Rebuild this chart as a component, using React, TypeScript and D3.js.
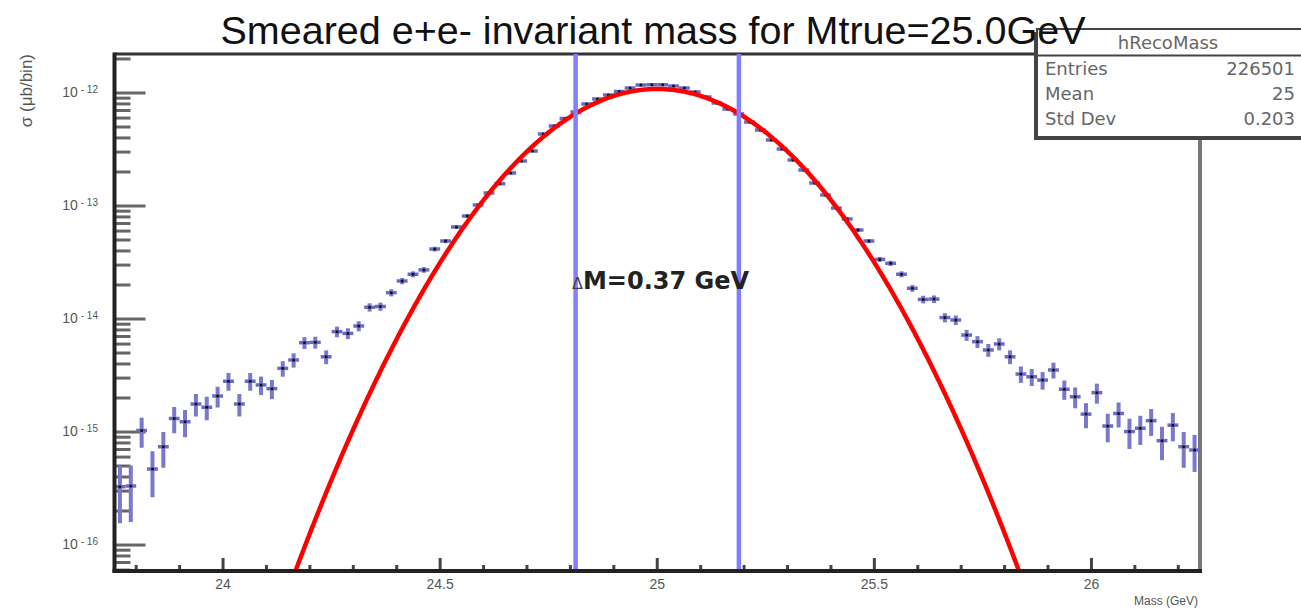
import React from 'react';
import * as d3 from 'd3';

// ---------- data ----------
const massLow = 23.75;
const massHigh = 26.25;
const binWidth = 0.025;
// sigma per bin (ub/bin), 100 bins from 23.75 to 26.25 GeV
const sigmaPerBin = [
  3.28e-16, 3.33e-16, 1.03e-15, 4.71e-16, 7.41e-16, 1.32e-15, 1.23e-15, 1.77e-15, 1.66e-15, 2.08e-15,
  2.82e-15, 1.77e-15, 2.82e-15, 2.61e-15, 2.42e-15, 3.66e-15, 4.34e-15, 6.17e-15, 6.22e-15, 4.63e-15,
  7.73e-15, 7.46e-15, 8.67e-15, 1.27e-14, 1.29e-14, 1.71e-14, 2.17e-14, 2.49e-14, 2.72e-14, 4.16e-14,
  4.90e-14, 6.52e-14, 8.17e-14, 1.02e-13, 1.30e-13, 1.57e-13, 1.96e-13, 2.50e-13, 3.07e-13, 4.34e-13,
  5.10e-13, 5.95e-13, 6.79e-13, 7.99e-13, 8.85e-13, 9.60e-13, 1.031e-12, 1.107e-12, 1.177e-12, 1.18e-12,
  1.18e-12, 1.153e-12, 1.107e-12, 1.02e-12, 9.22e-13, 8.155e-13, 7.22e-13, 6.52e-13, 5.54e-13, 4.71e-13,
  3.84e-13, 3.19e-13, 2.55e-13, 2.08e-13, 1.60e-13, 1.25e-13, 9.6e-14, 7.67e-14, 6.14e-14, 4.90e-14,
  3.37e-14, 3.11e-14, 2.49e-14, 1.87e-14, 1.49e-14, 1.50e-14, 1.03e-14, 9.8e-15, 7.21e-15, 6.3e-15,
  5.32e-15, 6.01e-15, 4.63e-15, 3.26e-15, 3.08e-15, 2.88e-15, 3.54e-15, 2.39e-15, 2.05e-15, 1.44e-15,
  2.23e-15, 1.13e-15, 1.46e-15, 1.01e-15, 1.08e-15, 1.26e-15, 8.38e-16, 1.15e-15, 7.41e-16, 6.93e-16,
];
const eventWeight = 9e-17; // weight of one event (Poisson errors)
const xMajorTicks = [24, 24.5, 25, 25.5, 26];
const xTickLabels = ['24', '24.5', '25', '25.5', '26'];
const yDecadeExponents = [-12, -13, -14, -15, -16];
const yDomain = [5.89e-17, 2.213e-12];
const fitMean = 25.0;
const fitSigma = 0.188;
const fitAmplitude = 1.085e-12;
const windowEdges = [24.812, 25.188];
const statsTitle = 'hRecoMass';
const statsLabels = ['Entries', 'Mean', 'Std Dev'];
const statsValues = ['226501', '25', '0.203'];
const chartTitle = 'Smeared e+e- invariant mass for Mtrue=25.0GeV';
const deltaLabel = 'M=0.37 GeV';

// ---------- layout ----------
const W = 1301;
const H = 610;
const L = 114.5;
const R = 1200;
const T = 54;
const B = 571;

export default function App() {
  const x = d3.scaleLinear().domain([massLow, massHigh]).range([L, R]);
  const y = d3.scaleLog().domain(yDomain).range([B, T]);

  const bins = sigmaPerBin.map((v, i) => {
    const c = massLow + binWidth * (i + 0.5);
    const err = Math.sqrt(v * eventWeight);
    return { c, v, lo: Math.max(v - err, yDomain[0] * 0.5), hi: v + err };
  });

  const fitXs = d3.range(massLow, massHigh + 1e-9, 0.002);
  const fitLine = d3
    .line<number>()
    .x((m) => x(m))
    .y((m) => y(fitAmplitude * Math.exp(-((m - fitMean) ** 2) / (2 * fitSigma * fitSigma))));

  const xMinor = d3.range(23.8, massHigh, 0.1).filter((m) => !xMajorTicks.some((t) => Math.abs(t - m) < 1e-6));
  const yMinor: number[] = [];
  for (let e = -17; e <= -12; e++) {
    for (let k = 2; k <= 9; k++) {
      const v = k * Math.pow(10, e);
      if (v > yDomain[0] && v < yDomain[1]) yMinor.push(v);
    }
  }

  const font = 'Liberation Sans, Arial, Helvetica, sans-serif';
  const statFont = 'DejaVu Sans, sans-serif';

  return (
    <svg width={W} height={H} style={{ position: 'absolute', left: 0, top: 0, background: '#fff' }}>
      <defs>
        <clipPath id="plotclip">
          <rect x={L} y={T} width={R - L} height={B - T} />
        </clipPath>
      </defs>
      <rect x={0} y={0} width={W} height={H} fill="#fff" />

      {/* frame */}
      <line x1={L} x2={R} y1={T} y2={T} stroke="#333" strokeWidth={3} />
      <line x1={R} x2={R} y1={T} y2={B} stroke="#777" strokeWidth={4} />

      {/* y ticks */}
      {yDecadeExponents.map((e) => (
        <line key={'yM' + e} x1={L} x2={L + 31} y1={y(Math.pow(10, e))} y2={y(Math.pow(10, e))} stroke="#666" strokeWidth={3} />
      ))}
      {yMinor.map((v, i) => (
        <line key={'ym' + i} x1={L} x2={L + 16} y1={y(v)} y2={y(v)} stroke="#666" strokeWidth={3} />
      ))}
      {/* x ticks */}
      {xMajorTicks.map((m) => (
        <line key={'xM' + m} x1={x(m)} x2={x(m)} y1={B} y2={B - 13} stroke="#444" strokeWidth={3} />
      ))}
      {xMinor.map((m, i) => (
        <line key={'xm' + i} x1={x(m)} x2={x(m)} y1={B} y2={B - 6} stroke="#444" strokeWidth={3} />
      ))}

      {/* data */}
      <g clipPath="url(#plotclip)">
        {bins.map((b, i) => (
          <g key={'b' + i}>
            <line x1={x(b.c)} x2={x(b.c)} y1={y(b.lo)} y2={y(b.hi)} stroke="#7878cc" strokeWidth={4} />
            <line x1={x(b.c - binWidth / 2)} x2={x(b.c + binWidth / 2)} y1={y(b.v)} y2={y(b.v)} stroke="#6a6ac6" strokeWidth={3.5} />
            <circle cx={x(b.c)} cy={y(b.v)} r={1.5} fill="#111" />
          </g>
        ))}
        <path d={fitLine(fitXs) || ''} fill="none" stroke="#ff0000" strokeWidth={4.5} />
        {windowEdges.map((m) => (
          <line key={'w' + m} x1={x(m)} x2={x(m)} y1={T} y2={B} stroke="#7f7fff" strokeWidth={4.5} />
        ))}
      </g>

      {/* axes */}
      <line x1={L} x2={L} y1={T - 1.5} y2={B + 2} stroke="#222" strokeWidth={4} />
      <line x1={L - 2} x2={R + 2} y1={B} y2={B} stroke="#222" strokeWidth={4} />

      {/* x labels */}
      {xMajorTicks.map((m, i) => (
        <text key={'xl' + m} x={x(m)} y={589} textAnchor="middle" fontFamily={font} fontSize={14} fill="#555">
          {xTickLabels[i]}
        </text>
      ))}
      <text x={1198} y={605} textAnchor="end" fontFamily={font} fontSize={12} fill="#555">
        Mass (GeV)
      </text>

      {/* y labels */}
      {yDecadeExponents.map((e) => (
        <text key={'yl' + e} x={98} y={y(Math.pow(10, e)) + 4} textAnchor="end" fontFamily={font} fontSize={14} fill="#555">
          10
          <tspan fontSize={10} dx={3} dy={-4}>
            {'- ' + String(-e)}
          </tspan>
        </text>
      ))}
      <text transform="translate(32,54) rotate(-90)" textAnchor="end" fontFamily={font} fontSize={17} fill="#555">
        σ (μb/bin)
      </text>

      {/* delta M label */}
      <text x={572} y={289} fontFamily="DejaVu Sans, sans-serif" fontSize={24} fontWeight="bold" fill="#222">
        <tspan fontSize={16} fontWeight="normal" fill="#444">Δ</tspan>
        {deltaLabel}
      </text>

      {/* stats box */}
      <rect x={1034} y={32} width={300} height={108} fill="#444" />
      <rect x={1037} y={29} width={300} height={108} fill="#fff" stroke="#444" strokeWidth={2} />
      <line x1={1037} x2={1301} y1={55.5} y2={55.5} stroke="#444" strokeWidth={2} />
      <text x={1168} y={49} textAnchor="middle" fontFamily={statFont} fontSize={18} fill="#666">
        {statsTitle}
      </text>
      {statsLabels.map((lab, i) => (
        <g key={'s' + i}>
          <text x={1045} y={75 + i * 25} fontFamily={statFont} fontSize={18} fill="#666">
            {lab}
          </text>
          <text x={1295} y={75 + i * 25} textAnchor="end" fontFamily={statFont} fontSize={18} fill="#666">
            {statsValues[i]}
          </text>
        </g>
      ))}

      {/* title */}
      <text x={653} y={44} textAnchor="middle" fontFamily={font} fontSize={39.5} fill="#111">
        {chartTitle}
      </text>
    </svg>
  );
}
